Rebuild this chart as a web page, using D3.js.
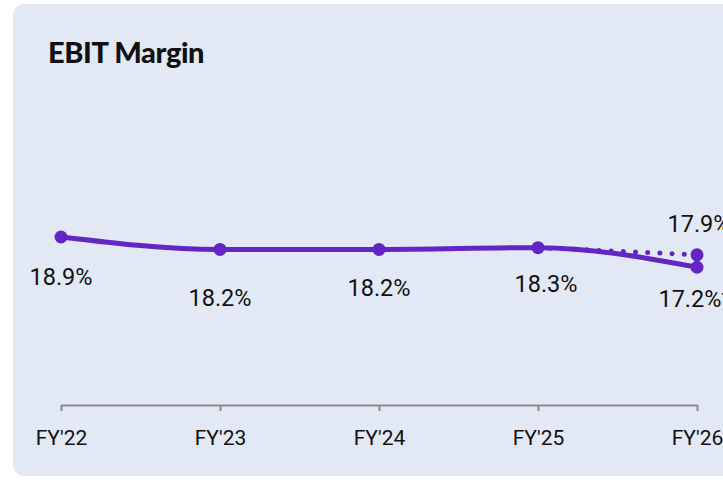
<!DOCTYPE html>
<html>
<head>
<meta charset="utf-8">
<script src="https://cdn.jsdelivr.net/npm/d3@7"></script>
<style>
	body { margin: 0; background: #ffffff; overflow: hidden; }
	svg { display: block; }
</style>
</head>
<body>
<div id="viz-container"></div>
<script>
var years = ["FY'22", "FY'23", "FY'24", "FY'25", "FY'26"];
var margin = [18.9, 18.2, 18.2, 18.3, 17.2];
var marginLabels = ["18.9%", "18.2%", "18.2%", "18.3%", "17.2%*"];
var projYears = ["FY'25", "FY'26"];
var projMargin = [18.3, 17.9];
var projLabel = "17.9%";

visualize();

function visualize () {
	var width = 723,
		height = 482,
		purple = '#6325c4',
		labelDy = [40, 48, 38, 36, 32]; // hand placed under each point

	var svg = d3.select('#viz-container')
		.append('svg')
		.attr('width', width)
		.attr('height', height);

	// card
	svg.append('rect')
		.attr('x', 13)
		.attr('y', 4)
		.attr('width', 740)
		.attr('height', 472)
		.attr('rx', 12)
		.attr('fill', '#e2e8f4');

	svg.append('text')
		.attr('x', 48)
		.attr('y', 63)
		.style('font-family', 'Lato, sans-serif')
		.style('font-weight', '900')
		.style('font-size', '29px')
		.style('letter-spacing', '-0.4px')
		.attr('fill', '#111')
		.text('EBIT Margin');

	var x = d3.scalePoint()
		.domain(years)
		.range([61, 697]);

	var y = d3.scaleLinear()
		.domain([17, 19])
		.range([270.8, 235.2]);

	var axis = d3.axisBottom(x)
		.tickSize(6)
		.tickSizeOuter(0)
		.tickPadding(19);

	var gAxis = svg.append('g')
		.attr('transform', 'translate(0,405)')
		.call(axis);
	gAxis.select('.domain').attr('stroke', '#8a8a8a').attr('stroke-width', 2);
	gAxis.selectAll('.tick line').attr('stroke', '#8a8a8a').attr('stroke-width', 2);
	gAxis.selectAll('.tick text')
		.attr('fill', '#111')
		.style('font-family', 'Roboto, sans-serif')
		.style('font-size', '21px');

	// projection dotted
	svg.append('path')
		.datum(projMargin)
		.attr('d', d3.line()
			.x(function (d, i) { return x(projYears[i]); })
			.y(function (d) { return y(d); }))
		.attr('fill', 'none')
		.attr('stroke', purple)
		.attr('stroke-width', 5)
		.attr('stroke-linecap', 'round')
		.attr('stroke-dasharray', '0 12.2');

	svg.append('path')
		.datum(margin)
		.attr('d', d3.line()
			.curve(d3.curveMonotoneX)
			.x(function (d, i) { return x(years[i]); })
			.y(function (d) { return y(d); }))
		.attr('fill', 'none')
		.attr('stroke', purple)
		.attr('stroke-width', 5)
		.attr('stroke-linecap', 'round');

	svg.selectAll('circle.actual')
		.data(margin)
		.enter()
		.append('circle')
		.attr('class', 'actual')
		.attr('cx', function (d, i) { return x(years[i]); })
		.attr('cy', function (d) { return y(d); })
		.attr('r', 6.5)
		.attr('fill', purple);

	svg.append('circle')
		.attr('cx', x(projYears[1]))
		.attr('cy', y(projMargin[1]))
		.attr('r', 6.5)
		.attr('fill', purple);

	svg.selectAll('text.val')
		.data(margin)
		.enter()
		.append('text')
		.attr('class', 'val')
		.attr('x', function (d, i) { return x(years[i]) + (i == 3 ? 8 : 0) - (i == 4 ? 2 : 0); })
		.attr('y', function (d, i) { return y(d) + labelDy[i]; })
		.attr('dy', '0.35em')
		.attr('text-anchor', 'middle')
		.attr('fill', '#111')
		.style('font-family', 'Roboto, sans-serif')
		.style('font-size', '23.5px')
		.text(function (d, i) { return marginLabels[i]; });

	svg.append('text')
		.attr('x', x(projYears[1]) + 2)
		.attr('y', y(projMargin[1]) - 31)
		.attr('dy', '0.35em')
		.attr('text-anchor', 'middle')
		.attr('fill', '#111')
		.style('font-family', 'Roboto, sans-serif')
		.style('font-size', '23.5px')
		.text(projLabel);
}
</script>
</body>
</html>
